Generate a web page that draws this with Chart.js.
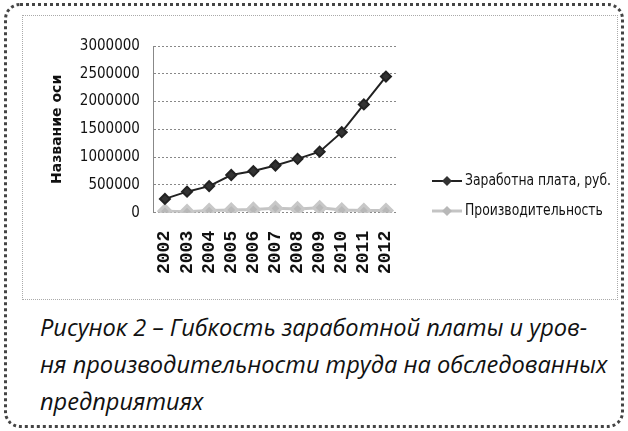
<!DOCTYPE html>
<html>
<head>
<meta charset="utf-8">
<script src="https://cdn.jsdelivr.net/npm/chart.js@4.4.1/dist/chart.umd.min.js"></script>
<style>
  body { margin: 0; background: #fff; }
  #frame {
    position: absolute; left: 4px; top: 3px; width: 614px; height: 419px;
    border: 3px dotted #444; border-radius: 16px;
  }
  #inner {
    position: absolute; left: 22px; top: 15px; width: 594px; height: 283px;
    border: 1px dotted #aaa;
  }
  #chart { position: absolute; left: 0; top: 0; }
  #caption {
    position: absolute; left: 40px; top: 309px; width: 585px;
    font-family: "Open Sans", sans-serif; font-style: italic; font-size: 23.6px;
    line-height: 37px; color: #111; white-space: nowrap;
  }
</style>
</head>
<body>
<div id="frame"></div>
<div id="inner"></div>
<canvas id="chart" width="628" height="300"></canvas>
<div id="caption">Рисунок 2 – Гибкость заработной платы и уров-<br>ня производительности труда на обследованных<br>предприятиях</div>
<script>
// years on the x axis
const years = ['2002', '2003', '2004', '2005', '2006', '2007', '2008', '2009', '2010', '2011', '2012'];
// wages, rub.
const wages = [250000, 380000, 480000, 680000, 750000, 850000, 970000, 1100000, 1450000, 1950000, 2450000];
// productivity (tiny next to wages)
const productivity = [30000, 20000, 40000, 50000, 60000, 80000, 70000, 90000, 50000, 40000, 40000];
const yTicks = [0, 500000, 1000000, 1500000, 2000000, 2500000, 3000000];

const seriesNames = ['Заработна плата, руб.', 'Производительность'];

// legend drawn by hand so it sits where the original one does
const sideLegend = {
  id: 'sideLegend',
  afterDraw(chart) {
    const ctx = chart.ctx;
    const rows = [181, 211];
    chart.data.datasets.forEach((ds, i) => {
      const y = rows[i];
      ctx.save();
      ctx.strokeStyle = ds.borderColor;
      ctx.lineWidth = ds.borderWidth;
      ctx.beginPath();
      ctx.moveTo(432, y);
      ctx.lineTo(462, y);
      ctx.stroke();
      ctx.fillStyle = ds.pointBackgroundColor;
      ctx.beginPath();
      ctx.moveTo(447, y - 5);
      ctx.lineTo(452, y);
      ctx.lineTo(447, y + 5);
      ctx.lineTo(442, y);
      ctx.closePath();
      ctx.fill();
      ctx.fillStyle = '#111';
      ctx.font = '16px "DejaVu Sans Condensed", sans-serif';
      ctx.textBaseline = 'middle';
      ctx.translate(465, y);
      ctx.scale(0.86, 1);
      ctx.fillText(ds.label, 0, 0);
      ctx.restore();
    });
  }
};

new Chart(document.getElementById('chart'), {
  type: 'line',
  data: {
    labels: years,
    datasets: [
      {
        label: seriesNames[0],
        data: wages,
        borderColor: '#222',
        borderWidth: 2,
        pointStyle: 'rectRot',
        pointRadius: 5,
        pointBackgroundColor: '#333',
        pointBorderColor: '#222',
        tension: 0
      },
      {
        label: seriesNames[1],
        data: productivity,
        borderColor: '#c4c4c4',
        borderWidth: 3,
        pointStyle: 'rectRot',
        pointRadius: 6,
        pointBackgroundColor: '#b8b8b8',
        pointBorderColor: '#c8c8c8',
        tension: 0
      }
    ]
  },
  options: {
    responsive: false,
    animation: false,
    devicePixelRatio: 1,
    layout: { padding: { left: 49, right: 231, top: 46, bottom: 16 } },
    plugins: {
      legend: { display: false },
      tooltip: { enabled: false }
    },
    scales: {
      x: {
        offset: true,
        grid: { display: false },
        border: { display: false },
        ticks: {
          autoSkip: false,
          minRotation: 90,
          maxRotation: 90,
          padding: 10,
          color: '#111',
          font: { family: 'Liberation Mono', weight: 'bold', size: 18 }
        }
      },
      y: {
        min: 0,
        max: 3000000,
        afterBuildTicks(axis) { axis.ticks = yTicks.map(v => ({ value: v })); },
        grid: { color: '#888', drawTicks: false },
        border: { display: true, color: '#888', dash: [2, 2] },
        title: {
          display: true,
          text: 'Название оси',
          color: '#111',
          padding: { top: 0, bottom: 0 },
          font: { family: 'DejaVu Sans', weight: 'bold', size: 14 }
        },
        ticks: {
          padding: 14,
          color: '#111',
          font: { family: 'DejaVu Sans Condensed', size: 15 },
          callback: v => String(v)
        }
      }
    }
  },
  plugins: [sideLegend]
});
</script>
</body>
</html>
